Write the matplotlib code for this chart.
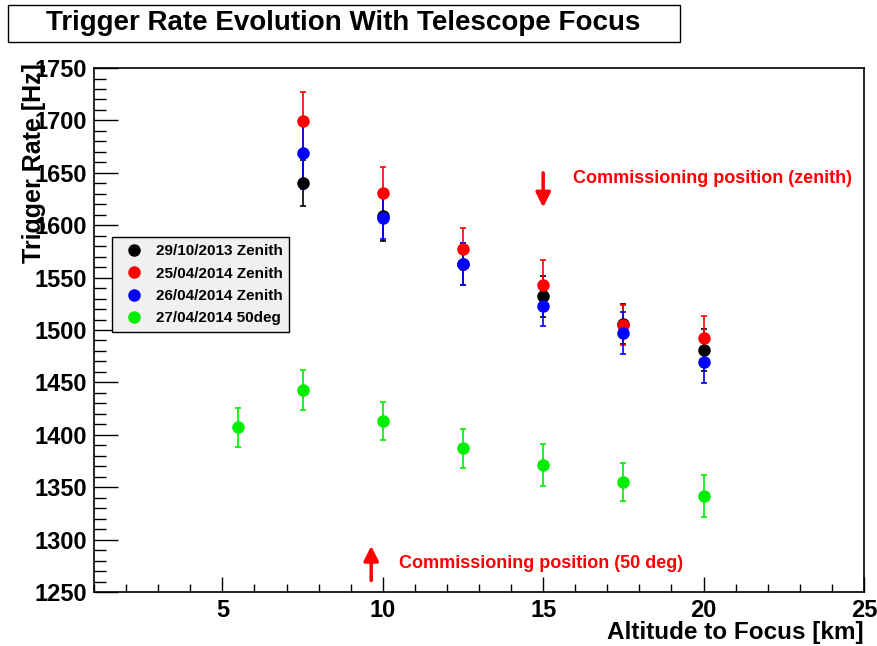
import numpy as np
import matplotlib
matplotlib.use('Agg')
import matplotlib.pyplot as plt
from matplotlib.patches import Rectangle
from matplotlib.lines import Line2D
from matplotlib.ticker import MultipleLocator

plt.rcParams['font.family'] = ['Liberation Sans', 'DejaVu Sans']
plt.rcParams['font.weight'] = 'bold'

# focus altitudes [km]
x_zenith = [7.5, 10, 12.5, 15, 17.5, 20]
x_50deg = [5.5, 7.5, 10, 12.5, 15, 17.5, 20]

# trigger rates [Hz] and errors
rate_2013 = [1640, 1609, 1563, 1532, 1506, 1481]
err_2013 = [22, 24, 20, 20, 19, 20]
rate_0425 = [1699, 1631, 1577, 1543, 1505, 1492]
err_0425 = [28, 25, 20, 24, 19, 21]
rate_0426 = [1669, 1607, 1563, 1523, 1497, 1469]
err_0426 = [34, 20, 20, 19, 20, 20]
rate_0427 = [1407, 1443, 1413, 1387, 1371, 1355, 1342]
err_0427 = [19, 19, 18, 19, 20, 18, 20]

series = [
    (x_zenith, rate_2013, err_2013, 'black', '29/10/2013 Zenith'),
    (x_zenith, rate_0425, err_0425, 'red', '25/04/2014 Zenith'),
    (x_zenith, rate_0426, err_0426, 'blue', '26/04/2014 Zenith'),
    (x_50deg, rate_0427, err_0427, '#00ee00', '27/04/2014 50deg'),
]

fig = plt.figure(figsize=(8.78, 6.46), dpi=100)
ax = fig.add_axes([94 / 878, 0.0836, 770 / 878, 0.8111])

handles = []
for x, y, e, c, lab in series:
    ax.errorbar(x, y, yerr=e, fmt='o', color=c, ms=8, elinewidth=1.2,
                capsize=2.5, capthick=1.2)
    handles.append(Line2D([], [], ls='none', marker='o', ms=8, color=c, label=lab))

ax.set_xlim(1, 25)
ax.set_ylim(1250, 1750)
ax.xaxis.set_major_locator(MultipleLocator(5))
ax.xaxis.set_minor_locator(MultipleLocator(1))
ax.yaxis.set_major_locator(MultipleLocator(50))
ax.yaxis.set_minor_locator(MultipleLocator(10))
ax.tick_params(axis='both', which='both', direction='in', labelsize=17, width=1)
ax.tick_params(axis='x', which='major', length=11, pad=5)
ax.tick_params(axis='x', which='minor', length=6)
ax.tick_params(axis='y', which='major', length=17, pad=5)
ax.tick_params(axis='y', which='minor', length=8.6)
for lbl in ax.get_xticklabels() + ax.get_yticklabels():
    lbl.set_fontweight('bold')
for s in ax.spines.values():
    s.set_linewidth(1.2)

ax.text(-0.078, 1.01, 'Trigger Rate [Hz]', transform=ax.transAxes, rotation=90,
        ha='center', va='top', fontsize=18, fontweight='bold')
ax.text(1.0, -0.055, 'Altitude to Focus [km]', transform=ax.transAxes,
        ha='right', va='top', fontsize=17.5, fontweight='bold')

# commissioning markers
arr = dict(arrowstyle='-|>', color='red', lw=2.5, mutation_scale=22, shrinkA=0, shrinkB=0)
ax.annotate('', xy=(15.0, 1617), xytext=(15.0, 1650), arrowprops=arr)
ax.annotate('', xy=(9.64, 1294), xytext=(9.64, 1261), arrowprops=arr)
ax.text(15.93, 1645, 'Commissioning position (zenith)', color='red',
        fontsize=13, fontweight='bold', va='center')
ax.text(10.5, 1277, 'Commissioning position (50 deg)', color='red',
        fontsize=13, fontweight='bold', va='center')

leg = ax.legend(handles=handles, loc='upper left', bbox_to_anchor=(18 / 770, 0.677),
                borderaxespad=0, fancybox=False, framealpha=1, facecolor='#f0f0f0',
                edgecolor='black', prop={'size': 11, 'weight': 'bold'},
                handletextpad=0.4, labelspacing=0.55, borderpad=0.45,
                handlelength=2.0)
leg.get_frame().set_linewidth(1)

# title box
fig.patches.append(Rectangle((8 / 878, 1 - 42 / 646), 672 / 878, 37 / 646,
                             transform=fig.transFigure, fill=False,
                             edgecolor='black', lw=1))
fig.text(343 / 878, 1 - 23 / 646, 'Trigger Rate Evolution With Telescope Focus',
         ha='center', va='center', fontsize=20, fontweight='bold')

fig.savefig('out.png', dpi=100)
